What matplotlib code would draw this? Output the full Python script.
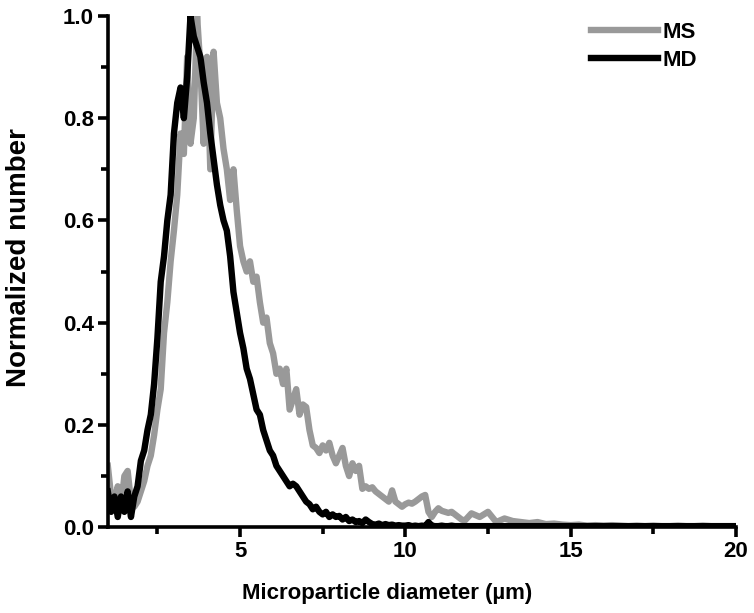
import matplotlib

matplotlib.use("Agg")
import matplotlib.pyplot as plt
import numpy as np
from matplotlib.ticker import MultipleLocator

plt.rcParams["font.family"] = ["Liberation Sans", "DejaVu Sans"]
plt.rcParams["font.weight"] = "bold"

# Diametro (um): paso 0.1 hasta 12, luego 0.25 hasta 20
diametro = np.concatenate([np.round(np.arange(1.0, 12.01, 0.1), 2),
                           np.round(np.arange(12.25, 20.01, 0.25), 2)])

# MS (gris)
ms = [
    0.12, 0.06, 0.05, 0.08, 0.04, 0.10, 0.11, 0.05, 0.04, 0.05,   # 1.0 - 1.9
    0.07, 0.09, 0.12, 0.14, 0.18, 0.23, 0.27, 0.38, 0.44, 0.52,   # 2.0 - 2.9
    0.58, 0.65, 0.77, 0.73, 0.92, 0.75, 0.80, 1.00, 0.90, 0.75,   # 3.0 - 3.9
    0.92, 0.70, 0.93, 0.83, 0.80, 0.74, 0.70, 0.64, 0.70, 0.62,   # 4.0 - 4.9
    0.55, 0.52, 0.50, 0.52, 0.48, 0.49, 0.44, 0.40, 0.41, 0.36,   # 5.0 - 5.9
    0.34, 0.30, 0.31, 0.28, 0.31, 0.23, 0.25, 0.27, 0.22, 0.24,   # 6.0 - 6.9
    0.235, 0.19, 0.16, 0.155, 0.145, 0.16, 0.15, 0.165, 0.14, 0.125,  # 7.0 - 7.9
    0.14, 0.155, 0.12, 0.10, 0.125, 0.11, 0.12, 0.075, 0.08, 0.075,   # 8.0 - 8.9
    0.078, 0.07, 0.065, 0.06, 0.055, 0.05, 0.072, 0.05, 0.045, 0.04,  # 9.0 - 9.9
    0.045, 0.048, 0.046, 0.05, 0.055, 0.06, 0.063, 0.03, 0.02, 0.03,  # 10.0 - 10.9
    0.037, 0.032, 0.03, 0.028, 0.03, 0.025, 0.02, 0.015, 0.013, 0.02,  # 11.0 - 11.9
    0.027,                                                            # 12.0
    0.02, 0.03, 0.01, 0.017, 0.012, 0.01, 0.008, 0.01,                # 12.25 - 14.0
    0.006, 0.007, 0.005, 0.004, 0.005, 0.003, 0.004, 0.003,           # 14.25 - 16.0
    0.004, 0.003, 0.002, 0.003, 0.002, 0.003, 0.002, 0.002,           # 16.25 - 18.0
    0.003, 0.002, 0.002, 0.003, 0.002, 0.002, 0.002, 0.002,           # 18.25 - 20.0
]

# MD (negro)
md = [
    0.07, 0.03, 0.06, 0.02, 0.06, 0.03, 0.07, 0.02, 0.06, 0.08,   # 1.0 - 1.9
    0.13, 0.15, 0.19, 0.22, 0.28, 0.37, 0.48, 0.53, 0.60, 0.65,   # 2.0 - 2.9
    0.77, 0.83, 0.86, 0.80, 0.88, 1.00, 0.96, 0.94, 0.92, 0.87,   # 3.0 - 3.9
    0.83, 0.77, 0.72, 0.67, 0.63, 0.60, 0.58, 0.53, 0.46, 0.42,   # 4.0 - 4.9
    0.38, 0.35, 0.31, 0.29, 0.26, 0.23, 0.22, 0.19, 0.17, 0.15,   # 5.0 - 5.9
    0.14, 0.12, 0.11, 0.10, 0.09, 0.08, 0.085, 0.08, 0.07, 0.06,  # 6.0 - 6.9
    0.05, 0.045, 0.035, 0.04, 0.03, 0.025, 0.03, 0.02, 0.025, 0.02,   # 7.0 - 7.9
    0.022, 0.015, 0.02, 0.012, 0.015, 0.01, 0.012, 0.008, 0.015, 0.01,  # 8.0 - 8.9
    0.006, 0.005, 0.007, 0.004, 0.006, 0.004, 0.005, 0.003, 0.004, 0.003,  # 9.0 - 9.9
    0.003, 0.004, 0.002, 0.003, 0.002, 0.003, 0.002, 0.01, 0.003, 0.002,  # 10.0 - 10.9
    0.002, 0.003, 0.002, 0.002, 0.003, 0.002, 0.002, 0.002, 0.002, 0.002,  # 11.0 - 11.9
    0.002,                                                                # 12.0
    0.002, 0.002, 0.002, 0.002, 0.002, 0.002, 0.002, 0.002,
    0.002, 0.002, 0.002, 0.002, 0.002, 0.002, 0.002, 0.002,
    0.002, 0.002, 0.002, 0.002, 0.002, 0.002, 0.002, 0.002,
    0.002, 0.002, 0.002, 0.002, 0.002, 0.002, 0.002, 0.002,
]

fig = plt.figure(figsize=(7.54, 6.13), dpi=100)
ax = fig.add_axes([0.143, 0.140, 0.833, 0.834])

ax.plot(diametro, ms, color="#999999", lw=4.6, label="MS")
ax.plot(diametro, md, color="black", lw=4.6, label="MD")

ax.set_xlim(1, 20)
ax.set_ylim(0, 1.0)
ax.xaxis.set_major_locator(MultipleLocator(5))
ax.xaxis.set_minor_locator(MultipleLocator(2.5))
ax.yaxis.set_major_locator(MultipleLocator(0.2))
ax.yaxis.set_minor_locator(MultipleLocator(0.1))
ax.yaxis.set_major_formatter(plt.FormatStrFormatter("%.1f"))

for s in ["top", "right"]:
    ax.spines[s].set_visible(False)
for s in ["left", "bottom"]:
    ax.spines[s].set_linewidth(2.6)

ax.tick_params(which="major", length=7, width=2.6, labelsize=16, direction="out")
ax.tick_params(which="minor", length=5, width=2.6, direction="out")
ax.tick_params(axis="x", pad=3)
ax.tick_params(axis="y", pad=3)

ax.set_xlabel("Microparticle diameter (\u00b5m)", fontsize=16, fontweight="bold")
ax.xaxis.set_label_coords(0.444, -0.11)
ax.set_ylabel("Normalized number", fontsize=20, fontweight="bold")
ax.yaxis.set_label_coords(-0.12, 0.528)

leg = ax.legend(loc="upper right", bbox_to_anchor=(0.97, 1.028), frameon=False,
                fontsize=16, handlelength=3.0, handletextpad=0.2, labelspacing=0.32)
for t in leg.get_texts():
    t.set_fontweight("bold")

fig.savefig("out.png", dpi=100)
